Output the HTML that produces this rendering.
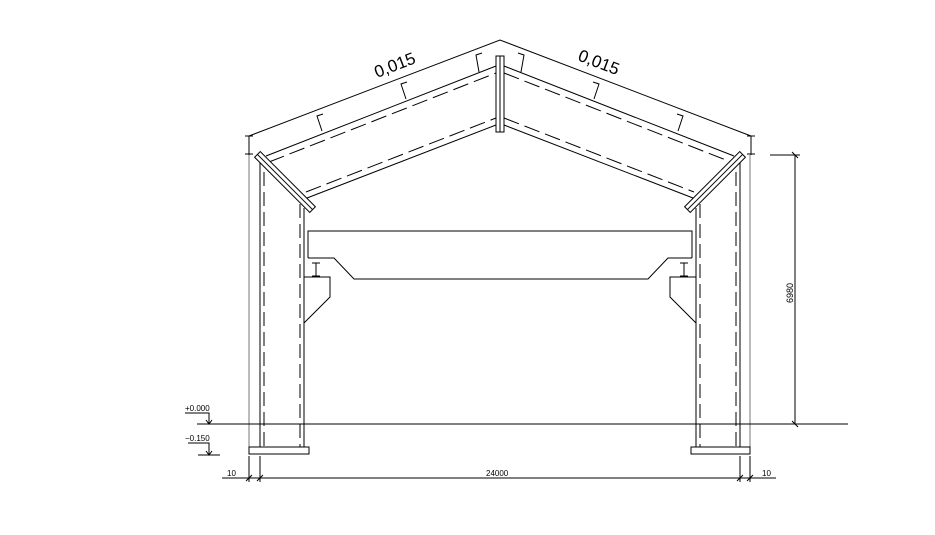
<!DOCTYPE html>
<html><head><style>body{margin:0;background:#fff}svg{display:block}</style></head><body>
<svg width="935" height="535" viewBox="0 0 935 535" xmlns="http://www.w3.org/2000/svg" font-family="Liberation Sans, sans-serif" fill="none" stroke="#000" stroke-width="1">
<polyline points="249,136 500,40 751,136"/>
<line x1="249" y1="136" x2="249" y2="155"/><line x1="245" y1="136" x2="253" y2="136"/><line x1="245" y1="154" x2="253" y2="154"/>
<line x1="751" y1="136" x2="751" y2="155"/><line x1="747" y1="136" x2="755" y2="136"/><line x1="747" y1="154" x2="755" y2="154"/>
<line x1="266" y1="156" x2="496" y2="66"/>
<line x1="269" y1="162" x2="496" y2="73" stroke-dasharray="16,6"/>
<line x1="307" y1="198" x2="496" y2="125"/>
<line x1="306" y1="192" x2="496" y2="118" stroke-dasharray="16,6"/>
<line x1="504" y1="66" x2="734" y2="156"/>
<line x1="504" y1="73" x2="731" y2="162" stroke-dasharray="16,6"/>
<line x1="504" y1="125" x2="693" y2="198"/>
<line x1="504" y1="118" x2="694" y2="192" stroke-dasharray="16,6"/>
<polyline points="322,131 317,116 323,114"/><polyline points="406,99 401,84 407,82"/><polyline points="479,72 476,55 482,53"/>
<polyline points="678,131 683,116 677,114"/><polyline points="594,99 599,84 593,82"/><polyline points="521,72 524,55 518,53"/>
<text x="0" y="0" font-size="17" fill="#000" stroke="none" transform="translate(377,78) rotate(-21)">0,015</text>
<text x="0" y="0" font-size="17" fill="#000" stroke="none" transform="translate(577,60) rotate(21)">0,015</text>
<rect x="496" y="56" width="8" height="76" fill="#fff"/><line x1="500" y1="56" x2="500" y2="132"/>
<g transform="translate(285,182) rotate(45)"><rect x="-39" y="-4" width="78" height="8" fill="#fff"/><line x1="-39" y1="0" x2="39" y2="0"/></g>
<g transform="translate(715,182) rotate(-45)"><rect x="-39" y="-4" width="78" height="8" fill="#fff"/><line x1="-39" y1="0" x2="39" y2="0"/></g>
<line x1="249" y1="155" x2="249" y2="447" stroke="#777"/>
<line x1="260" y1="163" x2="260" y2="447"/>
<line x1="264" y1="172" x2="264" y2="447" stroke-dasharray="14,6"/>
<line x1="300" y1="204" x2="300" y2="447" stroke-dasharray="14,6"/>
<line x1="304" y1="208" x2="304" y2="447"/>
<rect x="249" y="447" width="60" height="7" fill="#fff"/>
<line x1="750" y1="155" x2="750" y2="447" stroke="#777"/>
<line x1="740" y1="163" x2="740" y2="447"/>
<line x1="736" y1="172" x2="736" y2="447" stroke-dasharray="14,6"/>
<line x1="700" y1="204" x2="700" y2="447" stroke-dasharray="14,6"/>
<line x1="696" y1="208" x2="696" y2="447"/>
<rect x="691" y="447" width="59" height="7" fill="#fff"/>
<polyline points="308,258 308,231 692,231 692,258"/>
<polyline points="308,258 334,258 354,279 648,279 668,258 692,258"/>
<path d="M312,263h8M316,263v13M312,276h8"/>
<path d="M680,263h8M684,263v13M680,276h8"/>
<polyline points="304,277 330,277 330,297 304,323"/>
<polyline points="696,277 670,277 670,297 696,323"/>
<line x1="197" y1="424" x2="848" y2="424"/>
<text x="185" y="411" font-size="8" fill="#000" stroke="none">+0.000</text>
<polyline points="185,413 209,413 209,424"/><path d="M206,420l3,4l3,-4"/>
<text x="185" y="441" font-size="8" fill="#000" stroke="none">−0.150</text>
<polyline points="188,443 209,443 209,455"/><line x1="198" y1="455" x2="220" y2="455"/><path d="M206,451l3,4l3,-4"/>
<line x1="222" y1="478" x2="776" y2="478"/>
<line x1="249" y1="456" x2="249" y2="482"/><line x1="260" y1="456" x2="260" y2="482"/>
<line x1="740" y1="456" x2="740" y2="482"/><line x1="750" y1="456" x2="750" y2="482"/>
<path d="M246,481l6,-6M257,481l6,-6M737,481l6,-6M747,481l6,-6"/>
<text x="227" y="476" font-size="8" fill="#000" stroke="none">10</text>
<text x="486" y="476" font-size="8" fill="#000" stroke="none">24000</text>
<text x="762" y="476" font-size="8" fill="#000" stroke="none">10</text>
<line x1="770" y1="155" x2="800" y2="155"/>
<line x1="795" y1="155" x2="795" y2="424"/>
<path d="M792,152l6,6M792,421l6,6"/>
<text x="0" y="0" font-size="9" fill="#000" stroke="none" transform="translate(793,303) rotate(-90)">6980</text>
</svg>
</body></html>
